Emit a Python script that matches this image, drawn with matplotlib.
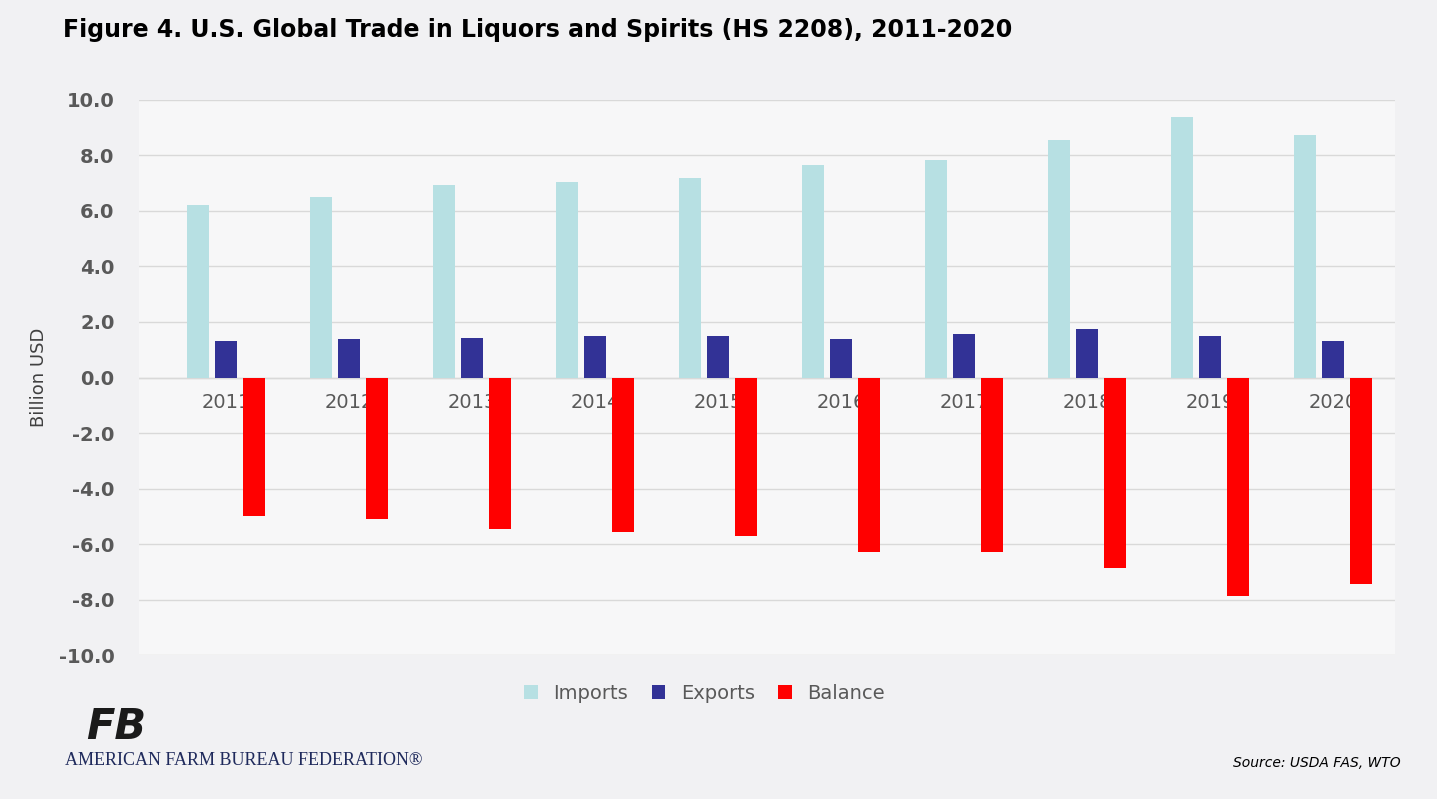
import matplotlib.pyplot as plt
import numpy as np

years = ["2011","2012","2013","2014","2015","2016","2017","2018","2019","2020"]
imports = [6.23,6.49,6.92,7.06,7.20,7.64,7.82,8.54,9.37,8.72]
exports = [1.30,1.40,1.44,1.51,1.51,1.37,1.55,1.73,1.48,1.30]
balance = [-4.97,-5.08,-5.44,-5.55,-5.69,-6.27,-6.27,-6.85,-7.86,-7.42]

fig = plt.figure(figsize=(14.37,7.99), dpi=100, facecolor="#f1f1f3")
ax = fig.add_axes([0.097,0.18,0.874,0.695])
ax.set_facecolor("#f7f7f8")
x = np.arange(len(years))
w = 0.18
ax.bar(x-0.225, imports, w, color="#b7e0e3", label="Imports", zorder=3)
ax.bar(x, exports, w, color="#323296", label="Exports", zorder=3)
ax.bar(x+0.225, balance, w, color="#ff0000", label="Balance", zorder=3)
ax.set_xlim(-0.705, 9.507)
ax.set_ylim(-10, 10)
ax.set_yticks(np.arange(-10, 10.1, 2))
ax.set_yticklabels([f"{v:.1f}" for v in np.arange(-10, 10.1, 2)], fontsize=14, color="#595959", fontweight="bold")
ax.yaxis.grid(True, color="#d9d9d9", lw=1, zorder=0)
ax.axhline(0, color="#d9d9d9", lw=1, zorder=1)
ax.set_xticks([])
for s in ax.spines.values(): s.set_visible(False)
ax.tick_params(axis="y", length=0, pad=18)
for xi, yr in zip(x, years):
    ax.text(xi, -0.55, yr, ha="center", va="top", fontsize=14, color="#595959", zorder=2)
ax.set_ylabel("Billion USD", fontsize=13, color="#404040", labelpad=8)
ax.legend(loc="upper center", bbox_to_anchor=(0.45, -0.02), ncol=3, frameon=False,
          fontsize=14, handlelength=0.7, handleheight=0.7, columnspacing=1.2, labelcolor="#595959")
fig.text(0.044, 0.962, "Figure 4. U.S. Global Trade in Liquors and Spirits (HS 2208), 2011-2020",
         fontsize=17, fontweight="bold", va="center", color="black")
fig.text(0.06, 0.09, "FB", fontsize=30, fontweight="bold", fontstyle="italic", color="#1a1a1a", va="center")
fig.text(0.045, 0.048, "AMERICAN FARM BUREAU FEDERATION®", fontsize=13, family="Liberation Serif",
         color="#1f2a5c", va="center")
fig.text(0.975, 0.045, "Source: USDA FAS, WTO", fontsize=10, fontstyle="italic", ha="right", va="center")
fig.savefig("out.png", dpi=100, facecolor=fig.get_facecolor())
